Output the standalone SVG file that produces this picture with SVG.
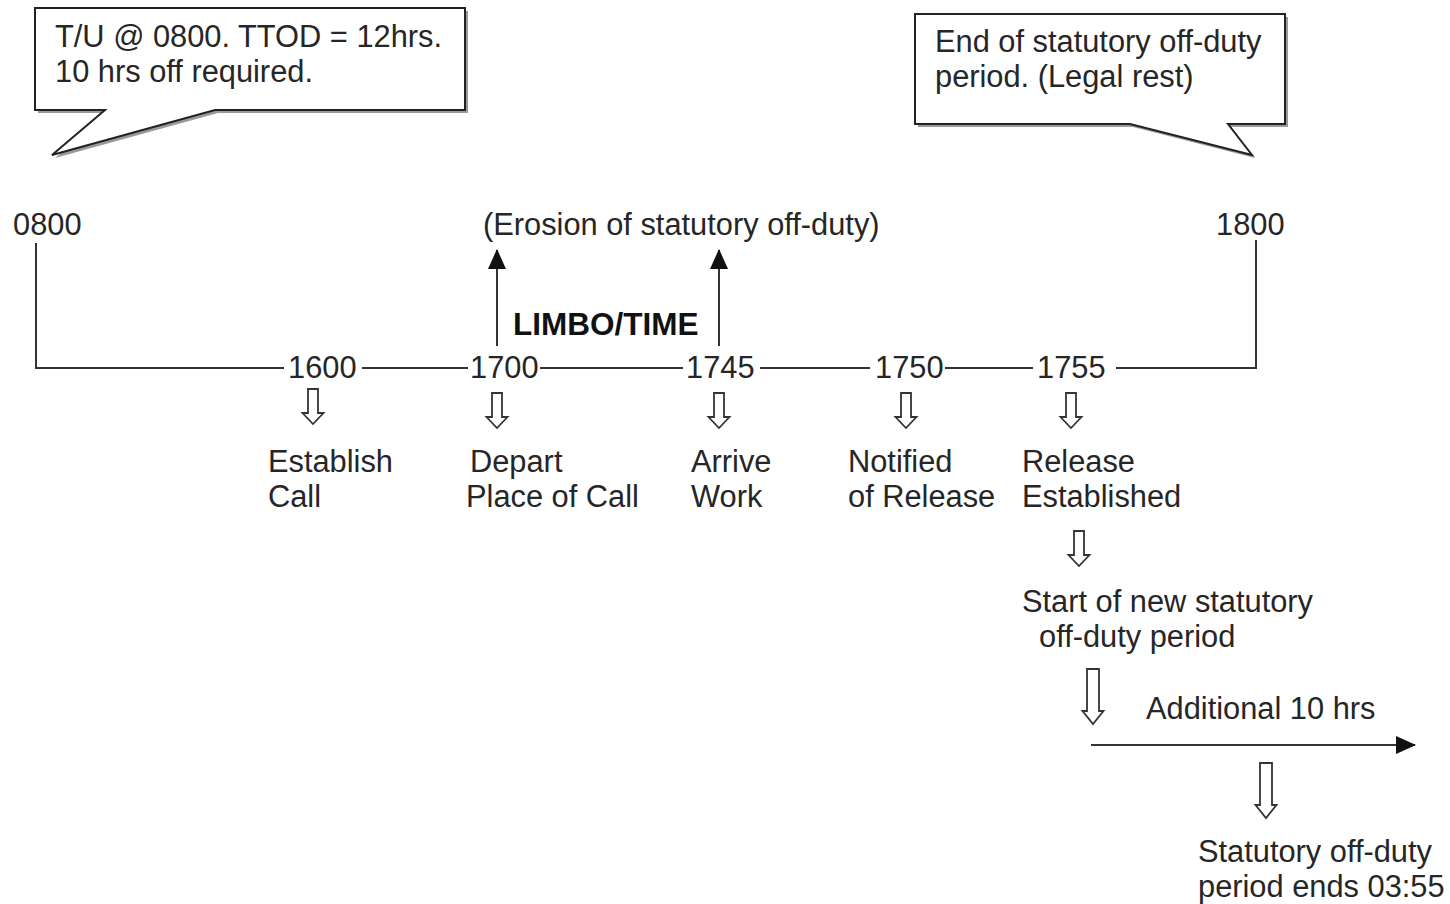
<svg xmlns="http://www.w3.org/2000/svg" width="1450" height="904" viewBox="0 0 1450 904">
<style>
text{font-family:"Liberation Sans",Arial,sans-serif;font-size:30.8px;fill:#262626}
.b{font-weight:bold;font-size:31.5px;fill:#111}
.ln{stroke:#333;stroke-width:2;fill:none}
.ha{fill:#fff;stroke:#333;stroke-width:1.8;stroke-linejoin:miter}
.co{fill:#fff;stroke:#222;stroke-width:2}
.sh{fill:#9a9a9a;stroke:none}
</style>
<defs>
<marker id="ahb" viewBox="0 0 20 20" refX="19" refY="10" markerWidth="20" markerHeight="20" markerUnits="userSpaceOnUse" orient="auto">
<path d="M0,1 L20,10 L0,19 Z" fill="#111"/>
</marker>
<path id="hs" d="M-5,0 H5 V24 H10.5 L0,35 L-10.5,24 H-5 Z"/>
<path id="hl" d="M-6,0 H6 V42 H10.5 L0,55 L-10.5,42 H-6 Z"/>
</defs>

<g id="callout-left">
<path class="sh" d="M38,11 H468 V113 H218 L55,158 L108,113 H38 Z"/>
<path class="co" d="M35,8 H465 V110 H215 L52,155 L105,110 H35 Z"/>
<text x="55" y="47">T/U @ 0800. TTOD = 12hrs.</text>
<text x="55" y="82">10 hrs off required.</text>
</g>

<g id="callout-right">
<path class="sh" d="M918,17 H1288 V127 H1231 L1255,158 L1133,127 H918 Z"/>
<path class="co" d="M915,14 H1285 V124 H1228 L1252,155 L1130,124 H915 Z"/>
<text x="935" y="52">End of statutory off-duty</text>
<text x="935" y="87">period. (Legal rest)</text>
</g>

<g id="connectors">
<path class="ln" d="M36,243 V368 H284"/>
<path class="ln" d="M362,368 H468"/>
<path class="ln" d="M540,368 H683"/>
<path class="ln" d="M760,368 H870"/>
<path class="ln" d="M945,368 H1033"/>
<path class="ln" d="M1116,368 H1256 V240"/>
<line class="ln" x1="497" y1="346" x2="497" y2="250" marker-end="url(#ahb)"/>
<line class="ln" x1="719" y1="346" x2="719" y2="250" marker-end="url(#ahb)"/>
<line class="ln" x1="1091" y1="745" x2="1415" y2="745" marker-end="url(#ahb)"/>
<use href="#hs" class="ha" x="313" y="389"/>
<use href="#hs" class="ha" x="497" y="393"/>
<use href="#hs" class="ha" x="719" y="393"/>
<use href="#hs" class="ha" x="906" y="393"/>
<use href="#hs" class="ha" x="1071" y="393"/>
<use href="#hs" class="ha" x="1079" y="531"/>
<use href="#hl" class="ha" x="1093" y="669"/>
<use href="#hl" class="ha" x="1266" y="763"/>
</g>

<g id="t0800"><text x="13" y="235">0800</text></g>
<g id="t1800"><text x="1216" y="235">1800</text></g>
<g id="erosion"><text x="483" y="235">(Erosion of statutory off-duty)</text></g>
<g id="limbo"><text class="b" x="513" y="335">LIMBO/TIME</text></g>
<g id="t1600"><text x="288" y="378">1600</text></g>
<g id="t1700"><text x="470" y="378">1700</text></g>
<g id="t1745"><text x="686" y="378">1745</text></g>
<g id="t1750"><text x="875" y="378">1750</text></g>
<g id="t1755"><text x="1037" y="378">1755</text></g>

<g id="establish"><text x="268" y="472">Establish</text><text x="268" y="507">Call</text></g>
<g id="depart"><text x="470" y="472">Depart</text><text x="466" y="507">Place of Call</text></g>
<g id="arrive"><text x="691" y="472">Arrive</text><text x="691" y="507">Work</text></g>
<g id="notified"><text x="848" y="472">Notified</text><text x="848" y="507">of Release</text></g>
<g id="release"><text x="1022" y="472">Release</text><text x="1022" y="507">Established</text></g>
<g id="start"><text x="1022" y="612">Start of new statutory</text><text x="1039" y="647">off-duty period</text></g>
<g id="additional"><text x="1146" y="719">Additional 10 hrs</text></g>
<g id="ends"><text x="1198" y="862">Statutory off-duty</text><text x="1198" y="897">period ends 03:55</text></g>
</svg>
